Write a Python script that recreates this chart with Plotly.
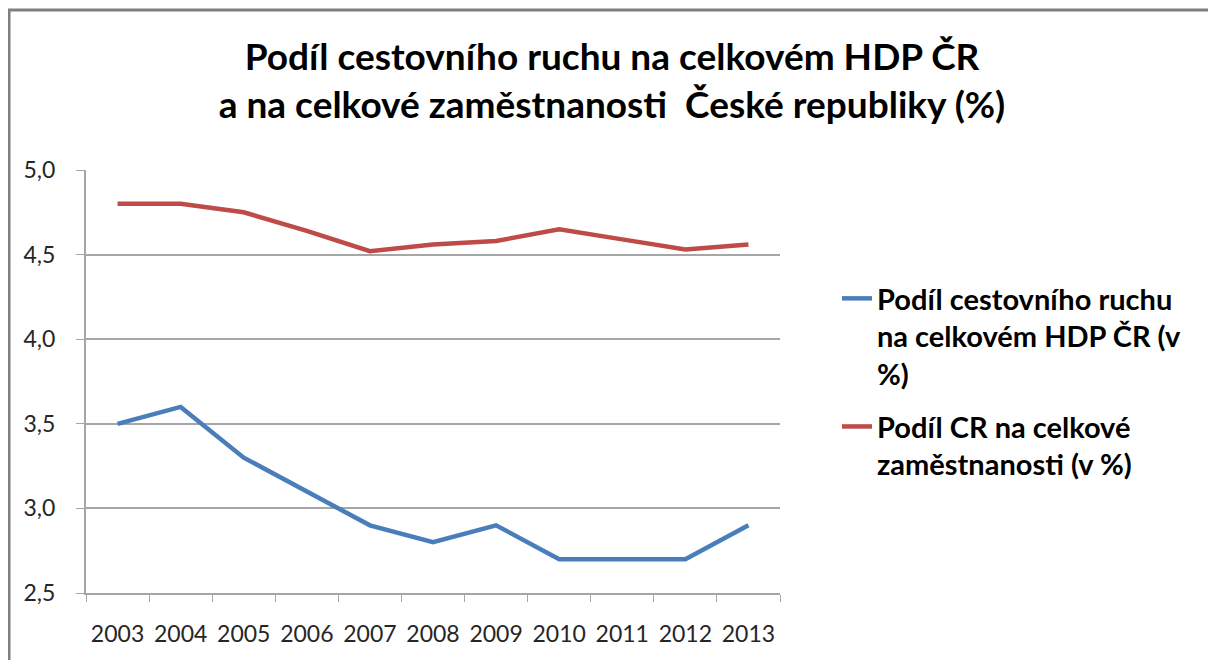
import plotly.graph_objects as go

years = ["2003", "2004", "2005", "2006", "2007", "2008", "2009", "2010", "2011", "2012", "2013"]
hdp_share = [3.5, 3.6, 3.3, 3.1, 2.9, 2.8, 2.9, 2.7, 2.7, 2.7, 2.9]
employment_share = [4.8, 4.8, 4.75, 4.64, 4.52, 4.56, 4.58, 4.65, 4.59, 4.53, 4.56]

series_names = [
    "Podíl cestovního ruchu<br>na celkovém HDP ČR (v<br>%)",
    "Podíl CR na celkové<br>zaměstnanosti (v %)",
]
y_ticks = [2.5, 3.0, 3.5, 4.0, 4.5, 5.0]

blue = "#4a7ebb"
red = "#be4b48"
grid = "#a6a6a6"

# the page body adds an 8px margin, so the figure is a bit smaller than the window
W, H = 1208, 652
L, T = 78, 162
PW, PH = 694, 423

fig = go.Figure()
fig.add_trace(go.Scatter(
    x=years, y=hdp_share, mode="lines", name=series_names[0],
    line=dict(color=blue, width=4.5), legendgroup="a",
))
fig.add_trace(go.Scatter(
    x=years, y=employment_share, mode="lines", name=series_names[1],
    line=dict(color=red, width=4.5), legendgroup="b",
))

fig.update_layout(
    width=W, height=H,
    margin=dict(l=L, r=W - L - PW, t=T, b=H - T - PH),
    paper_bgcolor="white", plot_bgcolor="white",
    separators=", ",
    font=dict(family="Lato", color="#262626"),
    title=dict(
        text="<b>Podíl cestovního ruchu na celkovém HDP ČR<br>a na celkové zaměstnanosti  České republiky (%)</b>",
        x=0.5, xref="container", xanchor="center",
        y=0.905, yanchor="top",
        font=dict(size=37, family="Lato", color="black"),
    ),
    showlegend=True,
    legend=dict(
        x=(837 - 8 - L) / PW, y=(T + PH - (273 - 8)) / PH, xanchor="left", yanchor="top",
        valign="top", tracegroupgap=12,
        font=dict(size=29, family="Lato", color="black", weight="bold"),
        bgcolor="rgba(0,0,0,0)",
    ),
    xaxis=dict(
        type="category", range=[-0.5, 10.5],
        tickson="boundaries", ticks="outside", ticklen=7, tickcolor=grid,
        showline=True, linecolor=grid, linewidth=2,
        showgrid=False, tickfont=dict(size=23, color="#262626"),
        ticklabelstandoff=19,
    ),
    yaxis=dict(
        range=[2.5, 5.0], tickvals=y_ticks, tickformat=".1f",
        ticks="outside", ticklen=8, tickcolor=grid,
        showline=True, linecolor=grid, linewidth=2,
        showgrid=True, gridcolor=grid, gridwidth=2,
        zeroline=False, tickfont=dict(size=23, color="#262626"),
        ticklabelstandoff=16,
    ),
    shapes=[
        dict(type="rect", xref="paper", yref="paper",
             x0=(9 - 8 - L) / PW, x1=(1221 - 8 - L) / PW,
             y0=-0.3, y1=(T + PH - (10 - 8)) / PH,
             line=dict(color="#7f7f7f", width=3), layer="below"),
    ],
)

fig.write_html("out.html")
